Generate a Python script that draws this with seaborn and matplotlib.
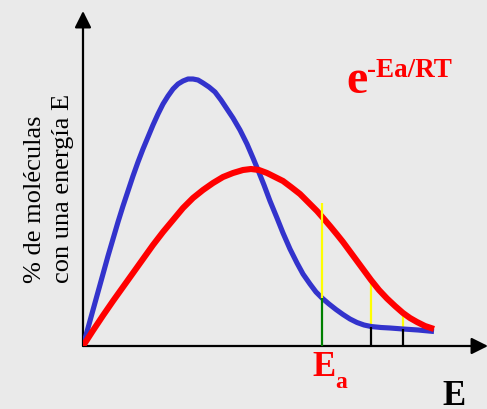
import matplotlib
matplotlib.use("Agg")
import matplotlib.pyplot as plt
import numpy as np
import pandas as pd
import seaborn as sns

# Curve read-outs (energy E, % of molecules), in chart units
blue_E = [0, 5, 10, 15, 20, 25, 30, 35, 40, 45, 50, 55, 60, 65, 70, 75, 80, 85, 90,
          95, 100, 105, 110, 115, 120, 126, 132, 138, 144, 150, 157, 164, 170, 175,
          181, 187, 194, 200, 207, 214, 220, 227, 233, 239, 246, 253, 260, 267, 274,
          281, 288, 298, 307, 320, 335, 351]
blue_y = [0, 18, 36, 54, 72, 90, 107, 124, 140, 155, 170, 184, 197, 209, 221, 232,
          242, 250, 257, 262, 265, 267, 267, 266, 263, 259, 254, 246, 237, 228, 216,
          202, 188, 176, 161, 145, 128, 113, 97, 83, 72, 62, 54, 48, 42, 36.5, 31.5,
          27, 23.5, 21, 19.5, 18.5, 18, 17, 16, 14.5]
red_E = [0, 10, 20, 30, 40, 50, 60, 70, 80, 90, 100, 110, 120, 130, 140, 150, 160,
         168, 176, 184, 192, 200, 208, 217, 225, 234, 241, 247, 254, 260, 267, 274,
         281, 288, 296, 304, 312, 320, 327, 334, 342, 351]
red_y = [0, 15.5, 30.5, 45, 59, 73, 87, 101, 114, 126, 138, 148, 156, 163, 169, 173,
         176, 177, 176, 173, 169, 165, 159, 152, 144, 135, 127, 120, 111.5, 104, 94.5,
         85, 75.5, 66, 56, 47.5, 40, 33, 28, 24, 20, 17]

# Activation-energy markers
ea_E = [239]
ea_blue = [48]
ea_top = [143]
tail_E = [288, 320]
tail_blue = [19.5, 17]
tail_top = [66, 33]

W, H = 487, 409
sns.set_theme(style="white")
plt.rcParams['font.family'] = ['Liberation Serif', 'DejaVu Serif']

fig = plt.figure(figsize=(W / 100, H / 100), dpi=100)
fig.patch.set_facecolor('#eaeaea')
ax = fig.add_axes([83 / W, 63 / H, 404 / W, 334 / H])
ax.set_facecolor('none')
ax.set_xlim(0, 404)
ax.set_ylim(0, 334)
for s in ax.spines.values():
    s.set_visible(False)
ax.set_xticks([])
ax.set_yticks([])

df = pd.concat([
    pd.DataFrame({'E': blue_E, 'y': blue_y, 'T': 'baja'}),
    pd.DataFrame({'E': red_E, 'y': red_y, 'T': 'alta'}),
])
line_kw = dict(sort=False, ax=ax, legend=False, zorder=3,
               solid_joinstyle='round', solid_capstyle='butt')
sns.lineplot(data=df[df['T'] == 'baja'], x='E', y='y', color='#3333cc', lw=3.7, **line_kw)
sns.lineplot(data=df[df['T'] == 'alta'], x='E', y='y', color='#ff0000', lw=4.4, **line_kw)
ax.set_xlabel('')
ax.set_ylabel('')

ax.vlines(ea_E, 0, ea_blue, color='#008000', lw=1.6, zorder=4)
ax.vlines(ea_E, ea_blue, ea_top, color='#ffff00', lw=1.6, zorder=4)
ax.vlines(tail_E, 0, tail_blue, color='black', lw=1.6, zorder=4)
ax.vlines(tail_E, tail_blue, tail_top, color='#ffff00', lw=1.6, zorder=2.5)

arrow = dict(arrowstyle='-|>,head_length=0.4,head_width=0.2', lw=1.6,
             color='black', mutation_scale=25, shrinkA=0, shrinkB=0)
ax.annotate('', xy=(0, 335), xytext=(0, 0), arrowprops=arrow, annotation_clip=False, zorder=2)
ax.annotate('', xy=(405, 0), xytext=(0, 0), arrowprops=arrow, annotation_clip=False, zorder=2)


def px(x, y):
    return x / W, 1 - y / H


fig.text(*px(346, 93), 'e', color='#ff0000', fontsize=34.5, fontweight='bold',
         ha='left', va='baseline')
fig.text(*px(367, 77), '-Ea/RT', color='#ff0000', fontsize=19.5, fontweight='bold',
         ha='left', va='baseline')
fig.text(*px(312, 376), 'E', color='#ff0000', fontsize=25, fontweight='bold',
         ha='left', va='baseline')
fig.text(*px(335, 388), 'a', color='#ff0000', fontsize=17, fontweight='bold',
         ha='left', va='baseline')
fig.text(*px(442, 405), 'E', color='black', fontsize=25, fontweight='bold',
         ha='left', va='baseline')
fig.text(*px(41, 283), '% de moléculas', color='black', fontsize=19, rotation=90,
         ha='left', va='baseline', rotation_mode='anchor')
fig.text(*px(69, 283), 'con una energía E', color='black', fontsize=19, rotation=90,
         ha='left', va='baseline', rotation_mode='anchor')

fig.savefig('out.png', dpi=100, facecolor=fig.get_facecolor())
